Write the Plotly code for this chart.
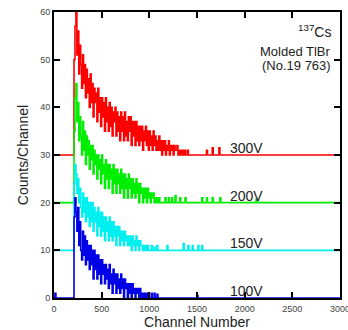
import plotly.graph_objects as go

# ---- data (counts above each trace's offset, 10-channel bins) ----
bin_width = 10
start_channel = 200

offsets = {"300V": 30, "200V": 20, "150V": 10, "100V": 0}
colors = {"300V": "#ff0000", "200V": "#00ee00", "150V": "#00f0f0", "100V": "#0000e6"}

counts_300V = [0, 20, 27, 30, 21, 26, 17, 23, 19, 14, 21, 15, 19, 12, 18, 13, 16, 10, 17, 11,
               15, 8, 14, 11, 13, 7, 14, 9, 12, 6, 12, 8, 11, 5, 12, 7, 10, 5, 11, 6,
               10, 4, 9, 7, 10, 4, 9, 5, 8, 3, 9, 5, 8, 3, 9, 4, 7, 3, 8, 5,
               8, 2, 7, 4, 7, 2, 7, 3, 6, 2, 6, 3, 6, 1, 5, 3, 6, 2, 5, 1,
               5, 2, 4, 1, 5, 2, 4, 1, 3, 1, 4, 1, 3, 0, 3, 1, 3, 0, 2, 1,
               3, 0, 2, 1, 2, 0, 2, 1, 1, 2, 0, 1, 0, 1, 0, 1, 0, 1, 0, 0, 1, 0]
spikes_300V = [(1600, 1.0), (1660, 1.5), (1730, 1.5)]

counts_200V = [0, 15, 22, 25, 17, 21, 13, 18, 14, 10, 17, 11, 15, 8, 14, 10, 13, 7, 12, 9,
               12, 6, 11, 8, 10, 5, 10, 7, 9, 4, 10, 6, 8, 3, 9, 5, 8, 3, 8, 5,
               7, 2, 8, 4, 7, 2, 7, 4, 6, 2, 7, 3, 6, 1, 6, 3, 5, 1, 6, 3,
               5, 1, 5, 2, 4, 1, 5, 2, 4, 0, 4, 2, 3, 0, 3, 1, 3, 0, 3, 1,
               2, 0, 2, 1, 2, 0, 1, 0, 1, 0, 1, 0]
spikes_200V = [(1165, 1.0), (1200, 1.0), (1235, 1.0), (1270, 1.5), (1320, 1.0), (1375, 1.0),
               (1550, 1.0), (1600, 1.0), (1660, 1.0), (1740, 1.0), (2120, 0.7)]

counts_150V = [0, 14, 18, 16, 12, 15, 10, 13, 9, 7, 12, 8, 11, 6, 11, 7, 10, 5, 10, 6,
               10, 4, 9, 6, 8, 3, 9, 5, 8, 3, 8, 4, 7, 2, 7, 4, 6, 2, 7, 3,
               6, 2, 6, 3, 5, 1, 5, 3, 5, 1, 4, 2, 4, 1, 4, 2, 3, 1, 3, 1,
               3, 0, 3, 1, 2, 0, 3, 1, 2, 0, 2, 1, 1, 0, 1, 0, 1, 0, 1, 0]
spikes_150V = [(1020, 1.0), (1050, 0.7), (1080, 1.0), (1185, 1.0), (1355, 1.5), (1405, 1.0),
               (1450, 1.0), (1510, 1.0), (1550, 1.0)]

counts_100V = [0, 17, 21, 18, 14, 19, 11, 16, 10, 8, 14, 9, 13, 7, 12, 8, 11, 6, 11, 7,
               10, 4, 10, 6, 9, 4, 9, 5, 8, 3, 8, 5, 7, 3, 7, 4, 6, 2, 7, 3,
               5, 1, 6, 3, 5, 1, 5, 2, 4, 1, 5, 2, 4, 0, 4, 2, 3, 0, 3, 1,
               3, 0, 3, 1, 2, 0, 2, 1, 2, 0, 2, 0, 1, 0, 1, 0, 1, 0, 1, 0]
spikes_100V = [(10, 1.0), (1020, 1.0), (1050, 1.0), (1080, 0.8), (1500, 0.5)]

series = {
    "300V": (counts_300V, spikes_300V),
    "200V": (counts_200V, spikes_200V),
    "150V": (counts_150V, spikes_150V),
    "100V": (counts_100V, spikes_100V),
}

x_ticks = [0, 500, 1000, 1500, 2000, 2500, 3000]
y_ticks = [0, 10, 20, 30, 40, 50, 60]


def build(counts, spikes, offset):
    pts = {0: 0.0}
    for i, v in enumerate(counts):
        pts[start_channel + bin_width * i] = v
    for c, h in spikes:
        pts[c] = h
        pts.setdefault(c + bin_width, 0.0)
    pts[3000] = 0.0
    xs = sorted(pts)
    return xs, [offset + pts[k] for k in xs]


fig = go.Figure()
for name in ["300V", "200V", "150V", "100V"]:
    c, s = series[name]
    xs, ys = build(c, s, offsets[name])
    fig.add_trace(go.Scatter(x=xs, y=ys, mode="lines", line=dict(color=colors[name], width=1.6, shape="hv"),
                             name=name, showlegend=False, hoverinfo="skip"))

txt = "#222222"
font = "Liberation Sans, Arial, sans-serif"
for name in offsets:
    fig.add_annotation(x=1830, y=offsets[name], text=name, showarrow=False, xanchor="left", yanchor="bottom",
                       yshift=-3, font=dict(family=font, size=14, color=txt))

fig.add_annotation(x=2925, y=56.0, text="<sup>137</sup>Cs", showarrow=False, xanchor="right", yanchor="middle",
                   font=dict(family=font, size=14, color=txt))
fig.add_annotation(x=2925, y=51.8, text="Molded TlBr", showarrow=False, xanchor="right",
                   yanchor="middle", font=dict(family=font, size=13, color=txt))
fig.add_annotation(x=2925, y=48.7, text="(No.19 763)", showarrow=False, xanchor="right",
                   yanchor="middle", font=dict(family=font, size=13, color=txt))

axis_common = dict(showline=True, linecolor="black", linewidth=2, mirror="ticks", ticks="inside",
                   ticklen=6, tickwidth=1.5, tickcolor="black", showgrid=False, zeroline=False,
                   ticklabeloverflow="allow", automargin=False,
                   tickfont=dict(family=font, size=9, color="#444444"))

fig.update_xaxes(range=[0, 3000], tickvals=x_ticks, ticktext=[str(v) for v in x_ticks],
                 ticklabelstandoff=1,
                 title=dict(text="Channel Number", font=dict(family=font, size=14, color=txt), standoff=7),
                 **axis_common)
fig.update_yaxes(range=[0, 60], tickvals=y_ticks, ticktext=[str(v) for v in y_ticks],
                 title=dict(text="Counts/Channel", font=dict(family=font, size=14, color=txt), standoff=8),
                 **axis_common)

fig.update_layout(width=348, height=330, margin=dict(l=54, r=8, t=12, b=32),
                  paper_bgcolor="white", plot_bgcolor="white")

fig.write_html("out.html")
